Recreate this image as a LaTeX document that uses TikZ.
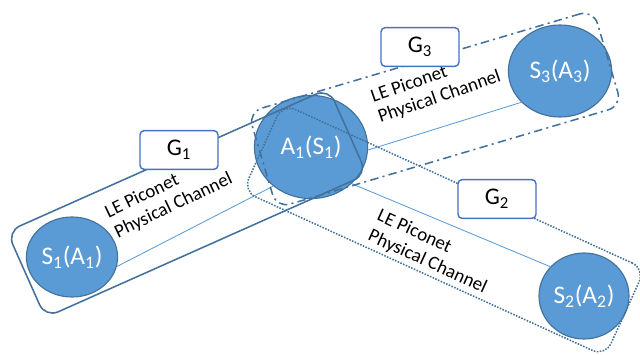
\documentclass[tikz,border=0pt]{standalone}
\usepackage{fontspec}
\setmainfont{Carlito}
\usepackage{tikz}
\usetikzlibrary{shapes.geometric}
\definecolor{piconet}{HTML}{5B9BD5}
\definecolor{rim}{HTML}{41719C}
\definecolor{tag}{HTML}{4472C4}

\begin{document}
\begin{tikzpicture}[x=0.025cm,y=-0.025cm,
  dev/.style={ellipse,draw=rim,line width=0.8pt,fill=piconet,text=white,font=\fontsize{18}{21}\selectfont,inner sep=0pt},
  grp/.style={draw=rim,line width=1.1pt,rounded corners=10pt,inner sep=0pt},
  tagbox/.style={draw=tag,line width=1pt,fill=white,rounded corners=3pt,minimum width=1.95cm,minimum height=0.97cm,font=\fontsize{17}{20}\selectfont},
  chan/.style={align=left,font=\fontsize{13.5}{15.6}\selectfont,inner sep=0pt},
  link/.style={draw=piconet,line width=0.6pt}]
\useasboundingbox (0,0) rectangle (640,355);
% slaves and the shared master
\node[dev,minimum width=2.28cm,minimum height=2cm] (s1) at (72,257) {S\textsubscript{1}(A\textsubscript{1})};
\node[dev,minimum width=2.83cm,minimum height=2.58cm] (a1) at (311,147) {A\textsubscript{1}(S\textsubscript{1})};
\node[dev,minimum width=2.58cm,minimum height=2.3cm] (s3) at (560,71) {S\textsubscript{3}(A\textsubscript{3})};
\node[dev,minimum width=2.25cm,minimum height=2.15cm] (s2) at (584,296) {S\textsubscript{2}(A\textsubscript{2})};
% physical channels
\draw[link] (s1.-12) -- (a1.226);
\draw[link] (a1.-3) -- (s3.219);
\draw[link] (a1.-42) -- (s2.139);
% piconet groups
\node[grp,rotate=24,minimum width=8.8cm,minimum height=2.35cm] (g1box) at (187,203) {};
\node[grp,dash pattern=on 6pt off 3pt on 1.5pt off 3pt,rotate=16.5,minimum width=9cm,minimum height=2.5cm] (g3box) at (435,109) {};
\node[grp,densely dotted,rotate=-24.5,minimum width=9.95cm,minimum height=2.4cm] (g2box) at (444,230) {};
% channel captions
\node[chan,rotate=25.5] (c1) at (169,196) {LE Piconet\\Physical Channel};
\node[chan,rotate=19] (c3) at (436,87) {LE Piconet\\Physical Channel};
\node[chan,rotate=-24.5] (c2) at (432,252) {LE Piconet\\Physical Channel};
% group tags
\node[tagbox] (g1) at (179,150) {G\textsubscript{1}};
\node[tagbox] (g3) at (420,47) {G\textsubscript{3}};
\node[tagbox] (g2) at (497,199) {G\textsubscript{2}};
\end{tikzpicture}
\end{document}
